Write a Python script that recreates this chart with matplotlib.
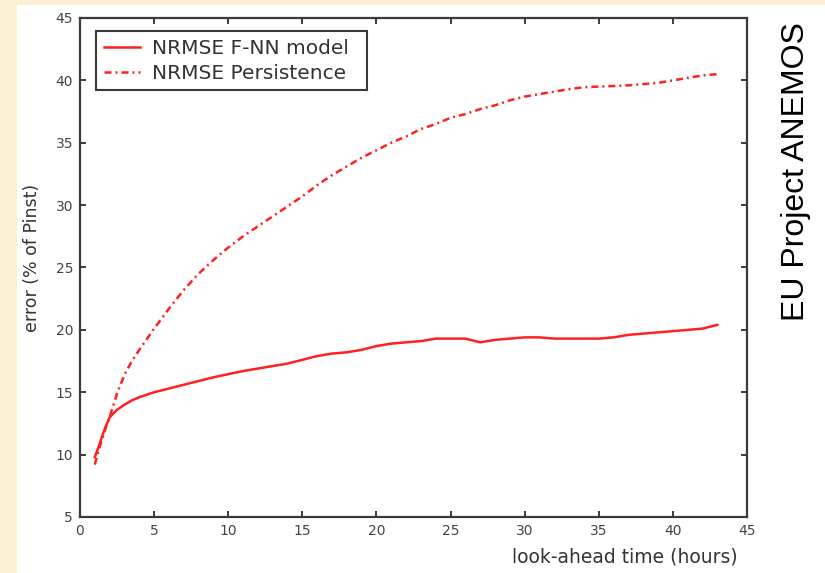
import matplotlib.pyplot as plt
from matplotlib.patches import Rectangle

# look-ahead horizon (hours) and normalised RMSE (% of installed power)
hours = [1, 1.25, 1.5, 1.75, 2, 2.5, 3, 3.5, 4, 5, 6, 7, 8, 9, 10,
         11, 12, 13, 14, 15, 16, 17, 18, 19, 20, 21, 22, 23, 24, 25,
         26, 27, 28, 29, 30, 31, 32, 33, 34, 35, 36, 37, 38, 39, 40,
         41, 42, 43]
nrmse_fnn = [9.8, 10.6, 11.5, 12.3, 13.0, 13.6, 14.0, 14.35, 14.6, 15.0,
             15.3, 15.6, 15.9, 16.2, 16.45, 16.7, 16.9, 17.1, 17.3, 17.6,
             17.9, 18.1, 18.2, 18.4, 18.7, 18.9, 19.0, 19.1, 19.3, 19.3,
             19.3, 19.0, 19.2, 19.3, 19.4, 19.4, 19.3, 19.3, 19.3, 19.3,
             19.4, 19.6, 19.7, 19.8, 19.9, 20.0, 20.1, 20.4]
nrmse_persistence = [9.2, 10.3, 11.3, 12.2, 13.0, 14.9, 16.4, 17.5, 18.4, 20.1,
                     21.7, 23.2, 24.5, 25.6, 26.6, 27.5, 28.3, 29.1, 29.9, 30.7,
                     31.6, 32.4, 33.1, 33.8, 34.4, 35.0, 35.5, 36.1, 36.5, 37.0,
                     37.3, 37.7, 38.0, 38.4, 38.7, 38.9, 39.1, 39.3, 39.45, 39.5,
                     39.55, 39.6, 39.7, 39.8, 40.0, 40.2, 40.4, 40.5]
labels = ['NRMSE F-NN model', 'NRMSE Persistence']

W, H = 825, 573
fig = plt.figure(figsize=(W / 100, H / 100), dpi=100)
fig.patch.set_facecolor('#fbefd2')
# white sheet behind the plot
fig.patches.append(Rectangle((17 / W, 0), 1 - 17 / W, 1 - 5 / H,
                             transform=fig.transFigure, facecolor='white',
                             edgecolor='none', zorder=-10))

ax = fig.add_axes([80 / W, 1 - 517 / H, 667 / W, 499 / H])
ax.set_facecolor('white')

red = '#ff2020'
ax.plot(hours, nrmse_fnn, color=red, lw=1.8, label=labels[0])
ax.plot(hours, nrmse_persistence, color=red, lw=1.8,
        linestyle=(0, (2.8, 1.6, 0.8, 1.6)), label=labels[1])

ax.set_xlim(0, 45)
ax.set_ylim(5, 45)
ax.set_xticks(range(0, 46, 5))
ax.set_yticks(range(5, 46, 5))

gray = '#3a3a3a'
for s in ax.spines.values():
    s.set_color(gray)
    s.set_linewidth(1.6)
ax.tick_params(direction='in', length=4, width=1.4, color=gray,
               labelcolor='#444444', labelsize=10, top=True, right=True,
               pad=5)

ax.set_xlabel('look-ahead time (hours)', fontsize=13.5, color='#333333')
ax.xaxis.set_label_coords((625 - 80) / 667, -(557 - 517) / 499)
ax.xaxis.label.set_va('center')
ax.set_ylabel('error (% of Pinst)', fontsize=12.5, color='#333333')
ax.yaxis.set_label_coords(-(80 - 32) / 667, (517 - 258) / 499)
ax.yaxis.label.set_va('center')

# legend box spans a fixed pixel rectangle
leg = ax.legend(loc='upper left', mode='expand',
                bbox_to_anchor=(96 / W, 1 - 88 / H, 271 / W, 57 / H),
                bbox_transform=fig.transFigure, borderaxespad=0,
                fontsize=14.5, handlelength=1.8, handletextpad=0.6,
                labelspacing=0.3, borderpad=0.38, fancybox=False,
                framealpha=1, edgecolor=gray)
leg.get_frame().set_linewidth(1.5)
for t in leg.get_texts():
    t.set_color('#333333')

fig.text(796 / W, 1 - 172 / H, 'EU Project ANEMOS', rotation=90,
         fontsize=23, family='Liberation Sans', ha='center', va='center',
         color='black')

fig.savefig('out.png', dpi=100, facecolor=fig.get_facecolor())
